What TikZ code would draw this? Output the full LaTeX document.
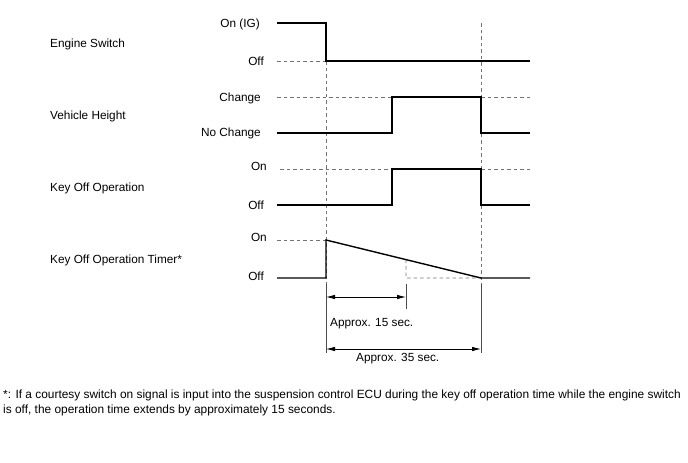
\documentclass[tikz,border=0pt]{standalone}
\usepackage{fontspec}
\setmainfont{Liberation Sans}
\usetikzlibrary{arrows.meta,calc}
\begin{document}
\begin{tikzpicture}[x=1pt,y=-1pt,
  sig/.style={line width=1.4pt, line join=miter},
  guide/.style={black!55, line width=0.7pt, dash pattern=on 3.5pt off 3pt},
  dimline/.style={line width=0.8pt, {Latex[length=9pt,width=4.5pt]}-{Latex[length=9pt,width=4.5pt]}},
  extline/.style={line width=0.9pt, gray!60!black},
  rowname/.style={anchor=west, inner sep=0pt, text height=8.4pt, text depth=0pt, font=\fontsize{11.8}{13}\selectfont},
  lvl/.style={anchor=east, inner sep=0pt, text height=8.4pt, text depth=0pt, font=\fontsize{11.8}{13}\selectfont},
  note/.style={anchor=west, inner sep=0pt, text height=8.5pt, text depth=0pt, font=\fontsize{11.9}{14}\selectfont},
]
\useasboundingbox (0,0) rectangle (688,463);

% left names
\node[rowname] (n1) at (50,43) {Engine Switch};
\node[rowname] (n2) at (50,115) {Vehicle Height};
\node[rowname] (n3) at (50,187) {Key Off Operation};
\node[rowname] (n4) at (50,259) {Key Off Operation Timer*};

% level labels
\node[lvl] (l1) at (260,23) {On (IG)};
\node[lvl] (l2) at (264,61) {Off};
\node[lvl] (l3) at (261,97) {Change};
\node[lvl] (l4) at (261,132) {No Change};
\node[lvl] (l5) at (267,166) {On};
\node[lvl] (l6) at (264,205) {Off};
\node[lvl] (l7) at (267,237) {On};
\node[lvl] (l8) at (264,276) {Off};

% key coordinates
\coordinate (e0) at (277,23);  \coordinate (e1) at (326,23);
\coordinate (e2) at (326,61);  \coordinate (e3) at (530,61);
\coordinate (e4) at (277,61);

\coordinate (v0) at (277,133); \coordinate (v1) at (392,133);
\coordinate (v2) at (392,97);  \coordinate (v3) at (481,97);
\coordinate (v4) at (481,133); \coordinate (v5) at (530,133);
\coordinate (v6) at (277,97);  \coordinate (v7) at (530,97);

\coordinate (k0) at (277,205); \coordinate (k1) at (392,205);
\coordinate (k2) at (392,169); \coordinate (k3) at (481,169);
\coordinate (k4) at (481,205); \coordinate (k5) at (530,205);
\coordinate (k6) at (280,169); \coordinate (k7) at (530,169);

\coordinate (t0) at (277,278); \coordinate (t1) at (326,278);
\coordinate (t2) at (326,240); \coordinate (t3) at (481,278);
\coordinate (t4) at (530,278); \coordinate (t5) at (277,240);
\coordinate (tm) at ($(t2)!0.516!(t3)$);
\coordinate (tb) at (406,278);

% guide lines
\draw[guide] (e4) -- (e2);
\draw[guide] (v6) -- (v2);
\draw[guide] (v3) -- (v7);
\draw[guide] (k6) -- (k2);
\draw[guide] (k3) -- (k7);
\draw[guide] (t5) -- (t2);
\draw[guide] (tm) -- (tb) -- (t3);
\coordinate (ga) at (326,284);
\coordinate (gd) at (481,284);
\coordinate (gd0) at (481,23);
\draw[guide] (e2) -- (ga);
\draw[guide] (gd0) -- (gd);

% signals
\draw[sig] (e0) -- (e1) -- (e2) -- (e3);
\draw[sig] (v0) -- (v1) -- (v2) -- (v3) -- (v4) -- (v5);
\draw[sig] (k0) -- (k1) -- (k2) -- (k3) -- (k4) -- (k5);
\draw[sig] (t0) -- (t1) -- (t2) -- (t3) -- (t4);

% dimension lines
\coordinate (da0) at (326,284); \coordinate (da1) at (326,353);
\coordinate (dd0) at (481,284); \coordinate (dd1) at (481,353);
\coordinate (dc0) at (406,284); \coordinate (dc1) at (406,309);
\draw[extline] (da0) -- (da1);
\draw[extline] (dd0) -- (dd1);
\draw[extline] (dc0) -- (dc1);
\coordinate (a15l) at (326,297); \coordinate (a15r) at (406,297);
\coordinate (a35l) at (326,349); \coordinate (a35r) at (481,349);
\draw[dimline] (a15l) -- (a15r);
\draw[dimline] (a35l) -- (a35r);
\node[rowname] (s15) at (330,322) {Approx. 15 sec.};
\node[rowname] (s35) at (356,357) {Approx. 35 sec.};

% footnote
\node[note] (f1) at (3,394) {*: If a courtesy switch on signal is input into the suspension control ECU during the key off operation time while the engine switch};
\node[note] (f2) at (3,409) {is off, the operation time extends by approximately 15 seconds.};
\end{tikzpicture}
\end{document}
